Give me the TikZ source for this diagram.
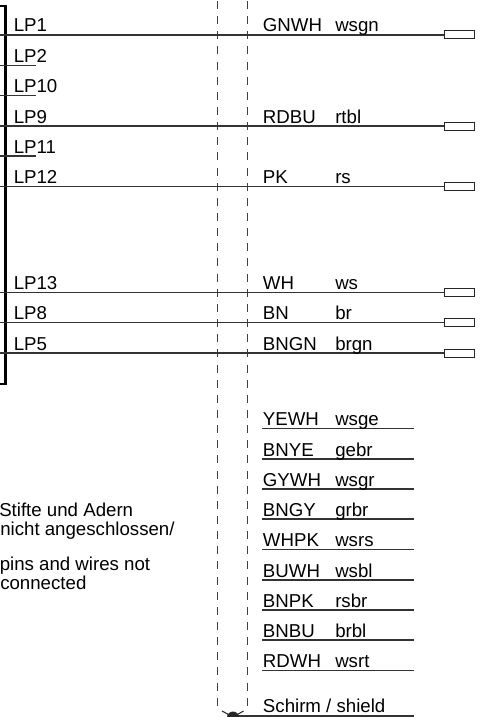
\documentclass[tikz,border=0pt]{standalone}
\usepackage{fontspec}
\setmainfont{Liberation Sans}
\tikzset{
  wire/.style={line width=0.85pt, draw=black!80},
  cable/.style={line width=0.75pt, draw=black!75, dash pattern=on 6pt off 5.36pt},
  lbl/.style={anchor=base west, inner sep=0pt, font=\fontsize{14}{14}\selectfont},
  plug/.style={draw=black!85, line width=0.75pt, fill=white, minimum width=22.9pt, minimum height=6pt, inner sep=0pt, anchor=west}
}
\begin{document}
\begin{tikzpicture}[x=0.75pt,y=-0.75pt]
\useasboundingbox (0,0) rectangle (483,717);
\clip (0,0) rectangle (483,717);
% cable outline
\draw[cable] (217,1) -- (217,705.5);
\draw[cable] (247.3,1) -- (247.3,705.5);
% connector bracket
\draw[line width=1.9pt] (0,6) -- (5.3,6) -- (5.3,384) -- (0,384);
% wires with plug
\foreach \ypos/\pin/\code/\col [count=\i] in {35/LP1/GNWH/wsgn,126/LP9/RDBU/rtbl,186.5/LP12/PK/rs,292.5/LP13/WH/ws,322.5/LP8/BN/br,353/LP5/BNGN/brgn}{
  \coordinate (w\i) at (0,\ypos);
  \node[plug] (p\i) at (443.7,\ypos) {};
  \draw[wire] (w\i) -- (p\i.west);
  \node[lbl] (pin\i) at (13.5,\ypos-3) {\pin};
  \node[lbl] (code\i) at (262.7,\ypos-3) {\code};
  \node[lbl] (col\i) at (335,\ypos-3) {\col};
}
% open pins
\foreach \ypos/\pin [count=\i] in {65.5/LP2,95.5/LP10,156/LP11}{
  \coordinate (a\i) at (0,\ypos);
  \coordinate (b\i) at (36,\ypos);
  \draw[wire] (a\i) -- (b\i);
  \node[lbl] (open\i) at (13.5,\ypos-3) {\pin};
}
% loose wires
\foreach \ypos/\code/\col [count=\i] in {428.7/YEWH/wsge,459/BNYE/gebr,489/GYWH/wsgr,519/BNGY/grbr,549.5/WHPK/wsrs,580/BUWH/wsbl,610/BNPK/rsbr,640/BNBU/brbl,670.5/RDWH/wsrt}{
  \coordinate (c\i) at (262,\ypos);
  \coordinate (d\i) at (414,\ypos);
  \draw[wire] (c\i) -- (d\i);
  \node[lbl] (loose\i) at (262.7,\ypos-3) {\code};
  \node[lbl] (loosecol\i) at (335,\ypos-3) {\col};
}
% shield
\node[lbl] (shield) at (262.7,712) {Schirm / shield};
\coordinate (s0) at (233,716);
\coordinate (s1) at (414,716);
\draw[wire] (s0) -- (s1);
\draw[wire] (222,711) -- (233,717);
\draw[wire] (243.5,711) -- (233,717);
\fill[black!85] (233,717.5) circle (6);
% note
\node[lbl] (note1) at (-1,516) {Stifte und Adern};
\node[lbl] (note2) at (0,535) {nicht angeschlossen/};
\node[lbl] (note3) at (-0.5,570.5) {pins and wires not};
\node[lbl] (note4) at (0,589) {connected};
\end{tikzpicture}
\end{document}
